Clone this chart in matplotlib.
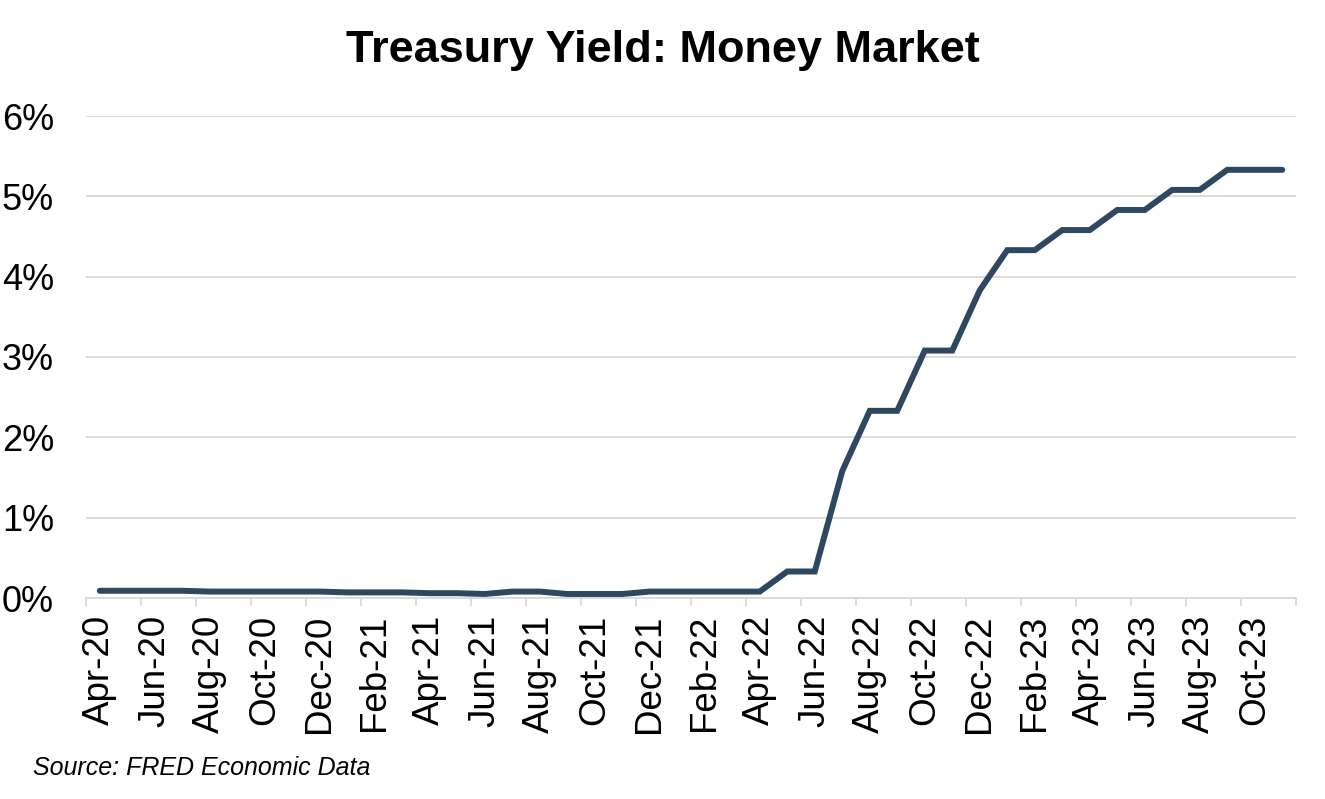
import matplotlib
matplotlib.use("Agg")
import matplotlib.pyplot as plt
from matplotlib.ticker import FixedLocator, NullFormatter

plt.rcParams["font.family"] = ["Liberation Sans", "DejaVu Sans"]

# ── data: monthly yield (%) Apr-2020 .. Nov-2023 ─────────────────────────────
months = [
    "Apr-20", "May-20", "Jun-20", "Jul-20", "Aug-20", "Sep-20", "Oct-20", "Nov-20",
    "Dec-20", "Jan-21", "Feb-21", "Mar-21", "Apr-21", "May-21", "Jun-21", "Jul-21",
    "Aug-21", "Sep-21", "Oct-21", "Nov-21", "Dec-21", "Jan-22", "Feb-22", "Mar-22",
    "Apr-22", "May-22", "Jun-22", "Jul-22", "Aug-22", "Sep-22", "Oct-22", "Nov-22",
    "Dec-22", "Jan-23", "Feb-23", "Mar-23", "Apr-23", "May-23", "Jun-23", "Jul-23",
    "Aug-23", "Sep-23", "Oct-23", "Nov-23",
]
yield_pct = [
    0.09, 0.09, 0.09, 0.09, 0.08, 0.08, 0.08, 0.08,
    0.08, 0.07, 0.07, 0.07, 0.06, 0.06, 0.05, 0.08,
    0.08, 0.05, 0.05, 0.05, 0.08, 0.08, 0.08, 0.08,
    0.08, 0.33, 0.33, 1.58, 2.33, 2.33, 3.08, 3.08,
    3.83, 4.33, 4.33, 4.58, 4.58, 4.83, 4.83, 5.08,
    5.08, 5.33, 5.33, 5.33,
]
y_ticks = [0, 1, 2, 3, 4, 5, 6]

GRID = "#d9d9d9"
LINE = "#2e4861"

W, H = 1325, 799
fig = plt.figure(figsize=(W / 100, H / 100), dpi=100)
ax = fig.add_axes([86 / W, 1 - 598 / H, (1296 - 86) / W, (598 - 116) / H])

x = list(range(len(months)))
ax.plot(x, yield_pct, color=LINE, lw=4.3, solid_capstyle="round",
        solid_joinstyle="miter", zorder=3, clip_on=False)

ax.set_xlim(-0.5, len(months) - 0.5)
ax.set_ylim(0, 6)

# y axis
ax.set_yticks(y_ticks)
ax.set_yticklabels([f"{v}%" for v in y_ticks], fontsize=26)
ax.yaxis.grid(True, color=GRID, lw=1.3)
ax.tick_params(axis="y", length=0, pad=23)

# x axis: tick marks between categories every 2, labels on every 2nd category
ax.xaxis.set_major_locator(FixedLocator([i - 0.5 for i in range(0, len(months) + 1, 2)]))
ax.xaxis.set_major_formatter(NullFormatter())
ax.xaxis.set_minor_locator(FixedLocator(x[::2]))
ax.set_xticklabels(months[::2], minor=True, rotation=90, fontsize=26.5)
ax.tick_params(axis="x", which="major", length=5.5, width=1.3, color=GRID, direction="out")
ax.tick_params(axis="x", which="minor", length=0, pad=12)

for s in ["top", "right", "left"]:
    ax.spines[s].set_visible(False)
ax.spines["bottom"].set_color(GRID)
ax.spines["bottom"].set_linewidth(1.3)
ax.set_axisbelow(True)

fig.text(0.5, 1 - 62 / H, "Treasury Yield: Money Market", ha="center", va="baseline",
         fontsize=32.5, fontweight="bold")
fig.text(33 / W, 1 - 768 / H, "Source: FRED Economic Data", ha="left", va="center",
         fontsize=18, style="italic")

fig.savefig("out.png", dpi=100)
